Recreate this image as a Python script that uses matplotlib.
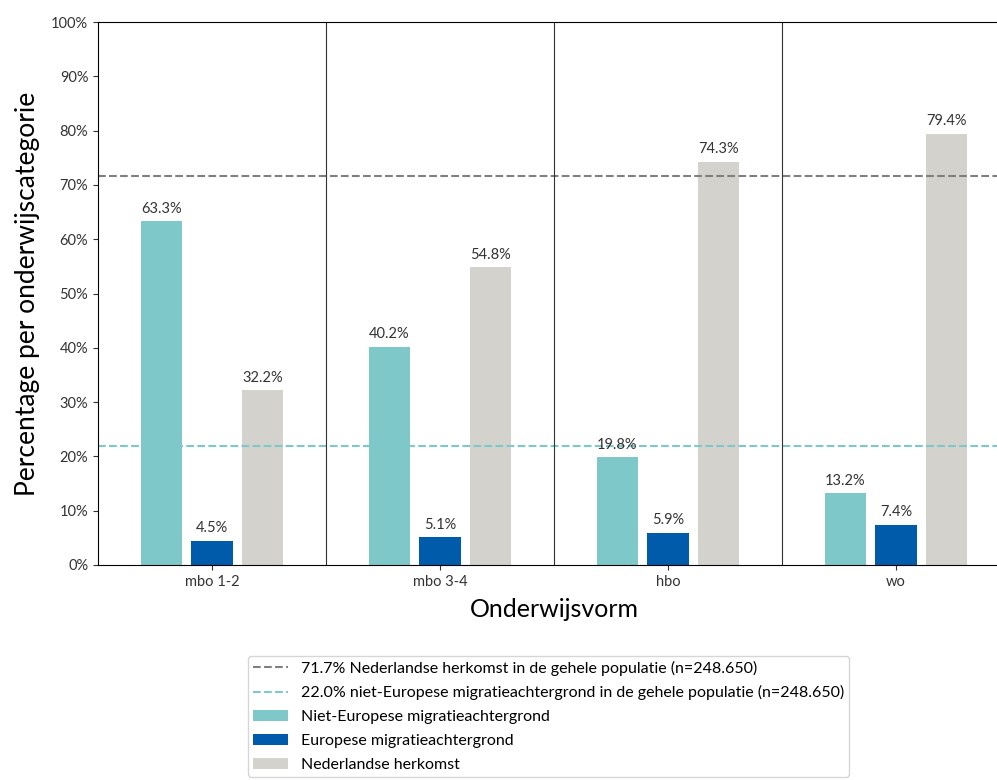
import matplotlib
matplotlib.use('Agg')
import matplotlib.pyplot as plt
import numpy as np
from matplotlib.ticker import PercentFormatter

plt.rcParams['font.family'] = ['Lato', 'DejaVu Sans']

categories = ['mbo 1-2', 'mbo 3-4', 'hbo', 'wo']
niet_europees = [63.3, 40.2, 19.8, 13.2]
europees = [4.5, 5.1, 5.9, 7.4]
nederlands = [32.2, 54.8, 74.3, 79.4]
ref_nl = 71.7
ref_ne = 22.0

c_ne = '#7ec8c9'
c_eu = '#005baa'
c_nl = '#d3d2cd'

fig = plt.figure(figsize=(9.97, 7.8), dpi=100)
ax = fig.add_axes([98/997, 1 - 565/780, 912/997, 543/780])

x = np.arange(len(categories))
w = 0.18
off = 0.222

ax.axhline(ref_nl, color='#808080', ls='--', lw=1.5,
           label='71.7% Nederlandse herkomst in de gehele populatie (n=248.650)')
ax.axhline(ref_ne, color=c_ne, ls='--', lw=1.5,
           label='22.0% niet-Europese migratieachtergrond in de gehele populatie (n=248.650)')

b1 = ax.bar(x - off, niet_europees, w, color=c_ne, label='Niet-Europese migratieachtergrond')
b2 = ax.bar(x, europees, w, color=c_eu, label='Europese migratieachtergrond')
b3 = ax.bar(x + off, nederlands, w, color=c_nl, label='Nederlandse herkomst')

for bars in (b1, b2, b3):
    ax.bar_label(bars, labels=[f'{v:.1f}%' for v in bars.datavalues],
                 padding=4, fontsize=10.5, color='#333333')

for xi in x[1:]:
    ax.axvline(xi - 0.5, color='#333333', lw=0.8)

ax.set_xlim(-0.5, len(categories) - 0.5)
ax.set_ylim(0, 100)
ax.set_yticks(range(0, 101, 10))
ax.yaxis.set_major_formatter(PercentFormatter(decimals=0))
ax.set_xticks(x)
ax.set_xticklabels(categories)
ax.tick_params(labelsize=10.5, colors='#333333')
ax.set_xlabel('Onderwijsvorm', fontsize=18, labelpad=7)
ax.set_ylabel('Percentage per onderwijscategorie', fontsize=19, labelpad=8)

fig.legend(loc='upper left', bbox_to_anchor=(240/997, 1 - 648/780),
           fontsize=11.5, frameon=True, edgecolor='#cccccc', fancybox=True,
           handlelength=2.2, borderpad=0.3, labelspacing=0.6)

fig.savefig('out.png', dpi=100)
